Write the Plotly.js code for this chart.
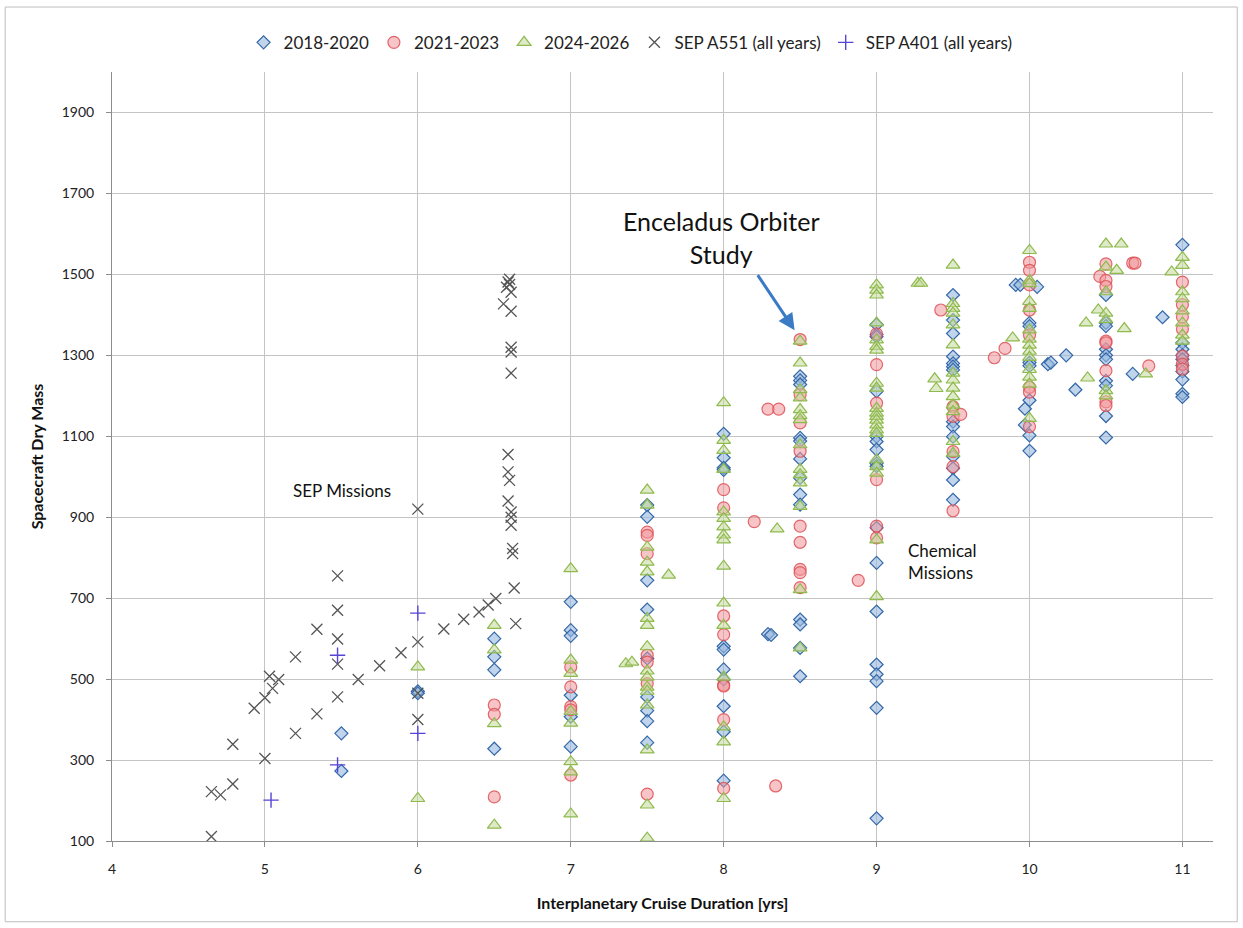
<!DOCTYPE html>
<html>
<head>
<meta charset="utf-8">
<script src="https://cdn.plot.ly/plotly-3.0.1.min.js"></script>
<style>html,body{margin:0;padding:0;background:#fff;}#chart{width:1243px;height:928px;}</style>
</head>
<body>
<div id="chart"></div>
<script>
// ---- Data ----
const seriesNames = ["2018-2020", "2021-2023", "2024-2026", "SEP A551 (all years)", "SEP A401 (all years)"];

const d2018x = [5.5,5.5, 6,6, 6.5,6.5,6.5,6.5, 7,7,7,7,7,7,
  7.5,7.5,7.5,7.5,7.5,7.5,7.5,7.5,7.5,
  8,8,8,8,8,8,8,8,8,8,8, 8.29,8.31,
  8.5,8.5,8.5,8.5,8.5,8.5,8.5,8.5,8.5,8.5,8.5,8.5,8.5,
  9,9,9,9,9,9,9,9,9,9,9,9,9,9,9,9,9,
  9.5,9.5,9.5,9.5,9.5,9.5,9.5,9.5,9.5,9.5,9.5,9.5,9.5,9.5,
  9.91,9.94,10.05, 10,10,10,10,10,10,10, 9.97,9.97,
  10.12,10.14,10.24,10.3,
  10.5,10.5,10.5,10.5,10.5,10.5,10.5,10.5,10.5,10.5,
  10.675,10.87,
  11,11,11,11,11,11,11,11,11,11];
const d2018y = [366,273, 470,465, 600,555,523,328, 691,621,607,460,407,333,
  930,901,744,672,551,456,422,396,343,
  1106,1047,1022,1017,581,573,524,499,433,370,249, 611,609,
  1248,1238,1228,1096,1088,1044,997,956,931,647,635,577,507,
  1376,1351,1346,1211,1099,1087,1067,1033,1026,874,787,667,536,512,495,429,156,
  1449,1387,1354,1297,1280,1272,1264,1136,1124,1099,1050,1021,992,943,
  1474,1474,1469, 1380,1372,1282,1274,1189,1102,1064, 1168,1128,
  1278,1282,1300,1215,
  1449,1380,1372,1315,1300,1290,1237,1225,1150,1097,
  1254,1394,
  1573,1331,1315,1300,1290,1275,1260,1240,1205,1197];

const d2021x = [6.5,6.5,6.5, 7,7,7,7,7, 7.5,7.5,7.5,7.5,7.5,7.5,7.5,
  8,8,8,8,8,8,8,8, 8.2, 8.29,8.36, 8.34,
  8.5,8.5,8.5,8.5,8.5,8.5,8.5,8.5,8.5, 8.88,
  9,9,9,9,9,9, 9.42, 9.5,9.5,9.5,9.5,9.5, 9.55,
  9.77,9.84,
  10,10,10,10,10,10,10,10,
  10.46,10.5,10.5,10.5,10.5,10.5,10.5,10.5,10.5,
  10.675,10.69, 10.78,
  11,11,11,11,11,11,11];
const d2021y = [436,413,209, 530,481,432,424,263, 863,855,810,559,542,489,216,
  968,923,656,610,485,483,400,230, 889, 1167,1167, 236,
  1339,1203,1133,1063,878,838,771,763,726, 744,
  1353,1277,1182,993,878,849, 1412, 1173,1149,1062,1025,916, 1154,
  1294,1317,
  1530,1510,1474,1412,1350,1221,1209,1124,
  1495,1526,1485,1470,1335,1331,1262,1185,1176,
  1528,1528, 1274,
  1481,1425,1395,1365,1298,1278,1266];

const d2024x = [6,6, 6.5,6.5,6.5,6.5, 7,7,7,7,7,7,7,7, 7.36,7.4,
  7.5,7.5,7.5,7.5,7.5,7.5,7.5,7.5,7.5,7.5,7.5,7.5,7.5,7.5,7.5,7.5, 7.64,
  8,8,8,8,8,8,8,8,8,8,8,8,8,8,8,8, 8.35,
  8.5,8.5,8.5,8.5,8.5,8.5,8.5,8.5,8.5,8.5,8.5,8.5,8.5,8.5,
  9,9,9,9,9,9,9,9,9,9,9,9,9,9,9,9,9,9,9,9,9,
  9.27,9.29, 9.38,9.39,
  9.5,9.5,9.5,9.5,9.5,9.5,9.5,9.5,9.5,9.5,9.5,9.5,9.5,9.5,
  9.89,
  10,10,10,10,10,10,10,10,10,10,10,10,10,10,
  10.37,10.38,10.45,
  10.5,10.5,10.5,10.5,10.5,10.5,10.5,
  10.57,10.6,10.62,10.76,10.93,
  11,11,11,11,11,11,11,11];
const d2024y = [530,205, 633,572,390,139, 773,547,514,420,391,296,271,167, 538,542,
  967,930,826,789,765,650,633,580,520,505,480,470,436,325,189,107, 757,
  1183,1090,1065,1018,913,897,876,856,844,779,688,633,505,382,345,205, 871,
  1335,1281,1215,1195,1166,1151,1141,1079,1018,1005,985,927,721,577,
  1474,1461,1449,1380,1338,1322,1313,1231,1219,1169,1157,1149,1140,1128,1116,1107,1042,1025,1009,844,704,
  1478,1478, 1242,1218,
  1523,1428,1416,1404,1375,1326,1256,1239,1219,1198,1177,1161,1087,1058,
  1343,
  1559,1485,1477,1433,1416,1363,1340,1325,1310,1295,1265,1246,1229,1144,
  1380,1244,1412,
  1575,1518,1457,1404,1388,1213,1200,
  1510,1575,1366,1254,1506,
  1542,1522,1457,1440,1410,1380,1350,1335];

const a551x = [4.65,4.65,4.71,4.79,4.79,4.93,5.0,5.0,5.03,5.05,5.09,5.2,5.2,5.34,5.34,
  5.475,5.475,5.475,5.475,5.475,5.61,5.75,5.89,6.0,6.0,6.0,6.0,
  6.17,6.3,6.4,6.46,6.51,6.63,6.64,
  6.59,6.59,6.6,6.59,6.61,6.61,6.61,6.62,6.62,6.61,6.61,6.61,6.56,6.61,6.59,6.6,6.58,6.61,6.6];
const a551y = [111,222,214,241,339,428,454,304,507,477,499,555,366,623,414,
  755,670,599,537,456,499,533,565,920,592,465,400,
  624,648,666,683,699,725,637,
  1055,1012,991,940,913,900,880,823,810,1256,1320,1308,1427,1409,1481,1488,1468,1456,1475];

const a401x = [5.04,5.475,5.475,6.0,6.0];
const a401y = [201,288,559,366,663];

const xTickVals = [4,5,6,7,8,9,10,11];
const yTickVals = [100,300,500,700,900,1100,1300,1500,1700,1900];

// ---- Chart ----
const FONT = "Lato, 'Open Sans', sans-serif";
const traces = [
  {x:d2018x, y:d2018y, name:seriesNames[0], type:"scatter", mode:"markers",
   marker:{symbol:"diamond", size:10, color:"rgba(150,184,222,0.6)", line:{color:"#3468a8", width:1.2}}},
  {x:d2021x, y:d2021y, name:seriesNames[1], type:"scatter", mode:"markers",
   marker:{symbol:"circle", size:12, color:"rgba(240,150,155,0.55)", line:{color:"rgba(222,80,85,0.85)", width:1.2}}},
  {x:d2024x, y:d2024y, name:seriesNames[2], type:"scatter", mode:"markers",
   marker:{symbol:"triangle-up", size:12, color:"rgba(196,217,155,0.55)", line:{color:"#8fba4e", width:1.2}}},
  {x:a551x, y:a551y, name:seriesNames[3], type:"scatter", mode:"markers",
   marker:{symbol:"x-thin-open", size:11, color:"#555555", line:{color:"#555555", width:1.3}}},
  {x:a401x, y:a401y, name:seriesNames[4], type:"scatter", mode:"markers",
   marker:{symbol:"cross-thin-open", size:11, color:"#5544d6", line:{color:"#5544d6", width:1.4}}}
];

const layout = {
  width:1243, height:928,
  margin:{l:112, r:30, t:72, b:87},
  paper_bgcolor:"#ffffff", plot_bgcolor:"#ffffff",
  font:{family:FONT, color:"#222", size:14},
  hovermode:false,
  showlegend:true,
  legend:{orientation:"h", x:0.471, xanchor:"center", y:1.038, yanchor:"middle",
          font:{family:FONT, size:17, color:"#222"}, itemwidth:30, tracegroupgap:0, traceorder:"normal"},
  xaxis:{range:[4,11.2], tickvals:xTickVals, ticktext:xTickVals.map(String),
         showgrid:true, gridcolor:"#c4c4c4", gridwidth:1, zeroline:false,
         showline:true, linecolor:"#8c8c8c", linewidth:1,
         ticks:"outside", ticklen:5, tickcolor:"#8c8c8c", ticklabelstandoff:10,
         tickfont:{family:FONT, size:14, color:"#222"},
         title:{text:"Interplanetary Cruise Duration [yrs]", font:{family:FONT, size:16, color:"#111", weight:"bold"}, standoff:22}},
  yaxis:{range:[100,2000], tickvals:yTickVals, ticktext:yTickVals.map(String),
         showgrid:true, gridcolor:"#c4c4c4", gridwidth:1, zeroline:false,
         showline:true, linecolor:"#8c8c8c", linewidth:1,
         ticks:"outside", ticklen:5, tickcolor:"#8c8c8c", ticklabelstandoff:9,
         tickfont:{family:FONT, size:14, color:"#222"},
         title:{text:"Spacecraft Dry Mass", font:{family:FONT, size:16, color:"#111", weight:"bold"}, standoff:14}},
  annotations:[
    {x:8.464, y:1362, ax:8.216, ay:1502, axref:"x", ayref:"y", xref:"x", yref:"y",
     text:"", showarrow:true, arrowhead:2, arrowsize:1.1, arrowwidth:3, arrowcolor:"#3b7bc6", standoff:0},
    {x:7.987, y:1591, xref:"x", yref:"y", text:"Enceladus Orbiter<br>Study", showarrow:false,
     font:{family:FONT, size:25, color:"#111"}, align:"center"},
    {x:5.503, y:967, xref:"x", yref:"y", text:"SEP Missions", showarrow:false,
     font:{family:FONT, size:17, color:"#111"}},
    {x:9.43, y:791, xref:"x", yref:"y", text:"Chemical<br>Missions", showarrow:false,
     font:{family:FONT, size:17, color:"#111"}, align:"left"}
  ],
  shapes:[
    {type:"rect", xref:"paper", yref:"paper", x0:-0.097, x1:1.022, y0:-0.105, y1:1.0845,
     line:{color:"#bdbdbd", width:1}, fillcolor:"rgba(0,0,0,0)", layer:"below"}
  ]
};

Plotly.newPlot("chart", traces, layout, {displayModeBar:false, staticPlot:true});
</script>
</body>
</html>
